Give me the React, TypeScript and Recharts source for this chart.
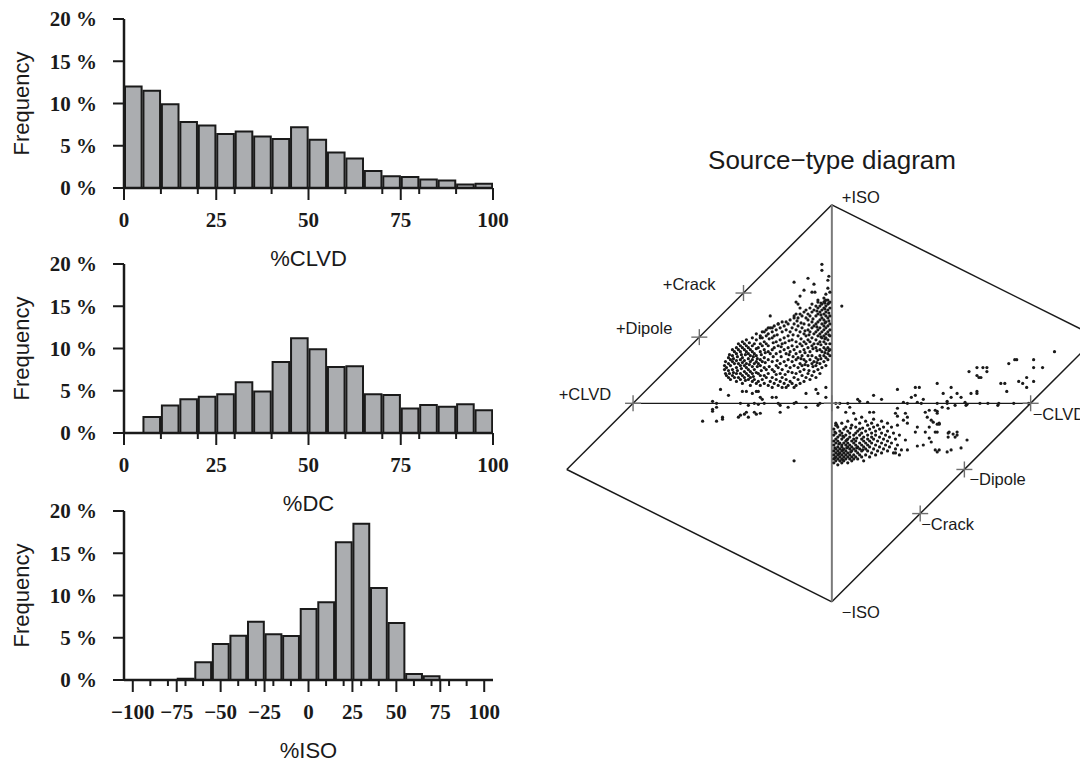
import React from 'react';
import { ComposedChart, Bar, XAxis, YAxis, ScatterChart, Scatter, ReferenceLine, ReferenceDot } from 'recharts';

// ---------- histogram data ----------
const pctBinCenters = [2.5, 7.5, 12.5, 17.5, 22.5, 27.5, 32.5, 37.5, 42.5, 47.5, 52.5, 57.5, 62.5, 67.5, 72.5, 77.5, 82.5, 87.5, 92.5, 97.5];
const clvdFreq = [12.0, 11.5, 9.9, 7.8, 7.4, 6.4, 6.7, 6.1, 5.8, 7.2, 5.7, 4.2, 3.5, 2.0, 1.4, 1.3, 1.0, 0.9, 0.4, 0.5];
const dcFreq = [0, 1.9, 3.25, 4.0, 4.3, 4.6, 6.0, 4.9, 8.4, 11.2, 9.9, 7.8, 7.9, 4.6, 4.5, 2.9, 3.3, 3.1, 3.4, 2.7];
const isoBinCenters = [-100, -90, -80, -70, -60, -50, -40, -30, -20, -10, 0, 10, 20, 30, 40, 50, 60, 70, 80, 90, 100];
const isoFreq = [0, 0, 0, 0.15, 2.1, 4.25, 5.25, 6.9, 5.4, 5.2, 8.4, 9.2, 16.3, 18.5, 10.9, 6.75, 0.7, 0.45, 0, 0, 0];

const pctTicks = [0, 10, 20, 25, 30, 40, 50, 60, 70, 75, 80, 90, 100];
const pctMajor = [0, 25, 50, 75, 100];
const isoTicks = [-100, -90, -80, -75, -70, -60, -50, -40, -30, -25, -20, -10, 0, 10, 20, 25, 30, 40, 50, 60, 70, 75, 80, 90, 100];
const isoMajor = [-100, -75, -50, -25, 0, 25, 50, 75, 100];
const freqTicks = [0, 5, 10, 15, 20];

// ---------- source-type diagram data (u = CLVD axis, v = ISO axis) ----------
const diamondU = [0, 4 / 3, 0, -4 / 3, 0];
const diamondV = [1, 1 / 3, -1, -1 / 3, 1];

const markerNames = ['+ISO', '+Crack', '+Dipole', '+CLVD', '−CLVD', '−Dipole', '−Crack', '−ISO', ''];
const markerU = [0, -4 / 9, -2 / 3, -1, 1, 2 / 3, 4 / 9, 0, 0];
const markerV = [1, 5 / 9, 1 / 3, 0, 0, -1 / 3, -5 / 9, -1, 0];

const upperCols: Array<[number, number[]]> = [
  [-0.54, [0.17, 0.19]],
  [-0.535, [0.15, 0.21]],
  [-0.53, [0.14, 0.18]],
  [-0.52, [0.13, 0.165, 0.20, 0.23]],
  [-0.515, [0.15, 0.245]],
  [-0.51, [0.12, 0.19, 0.22]],
  [-0.50, [0.14, 0.17, 0.21, 0.24, 0.27]],
  [-0.495, [0.155, 0.225]],
  [-0.49, [0.13, 0.20, 0.26]],
  [-0.48, [0.11, 0.15, 0.18, 0.215, 0.25, 0.28]],
  [-0.475, [0.165, 0.235]],
  [-0.47, [0.13, 0.20, 0.27, 0.30]],
  [-0.46, [0.12, 0.15, 0.19, 0.22, 0.26, 0.29]],
  [-0.455, [0.175, 0.245]],
  [-0.45, [0.10, 0.14, 0.205, 0.23, 0.28, 0.31]],
  [-0.44, [0.13, 0.16, 0.19, 0.215, 0.27, 0.30]],
  [-0.435, [0.115, 0.245]],
  [-0.43, [0.15, 0.18, 0.20, 0.26, 0.29, 0.32]],
  [-0.42, [0.12, 0.14, 0.17, 0.225, 0.25, 0.28]],
  [-0.415, [0.195, 0.305]],
  [-0.41, [0.09, 0.13, 0.16, 0.21, 0.24, 0.27]],
  [-0.40, [0.11, 0.15, 0.185, 0.22, 0.26, 0.29, 0.33]],
  [-0.395, [0.135, 0.235]],
  [-0.39, [0.12, 0.17, 0.20, 0.25, 0.30]],
  [-0.38, [0.10, 0.155, 0.21, 0.24, 0.275, 0.32, 0.35]],
  [-0.375, [0.185, 0.225]],
  [-0.37, [0.11, 0.15, 0.20, 0.28]],
  [-0.36, [0.09, 0.14, 0.19, 0.22, 0.26, 0.30, 0.34]],
  [-0.355, [0.165, 0.245]],
  [-0.35, [0.12, 0.21, 0.29, 0.33]],
  [-0.34, [0.10, 0.14, 0.18, 0.23, 0.27, 0.31, 0.36]],
  [-0.335, [0.205, 0.255]],
  [-0.33, [0.13, 0.17, 0.30, 0.34, 0.37]],
  [-0.32, [0.09, 0.15, 0.22, 0.26, 0.29, 0.35]],
  [-0.315, [0.185, 0.325]],
  [-0.31, [0.11, 0.25, 0.38]],
  [-0.30, [0.08, 0.13, 0.17, 0.21, 0.27, 0.33, 0.36]],
  [-0.295, [0.235, 0.305]],
  [-0.29, [0.10, 0.16, 0.28, 0.34, 0.39]],
  [-0.28, [0.12, 0.145, 0.19, 0.25, 0.31, 0.37]],
  [-0.275, [0.215, 0.345]],
  [-0.27, [0.09, 0.18, 0.29, 0.40]],
  [-0.26, [0.11, 0.15, 0.20, 0.26, 0.32, 0.38]],
  [-0.255, [0.235, 0.285]],
  [-0.25, [0.08, 0.13, 0.17, 0.30, 0.36, 0.41]],
  [-0.24, [0.10, 0.21, 0.27, 0.33, 0.39]],
  [-0.235, [0.145, 0.305]],
  [-0.23, [0.12, 0.19, 0.25, 0.37, 0.41]],
  [-0.22, [0.09, 0.16, 0.22, 0.28, 0.34, 0.40]],
  [-0.215, [0.245, 0.315]],
  [-0.21, [0.11, 0.18, 0.26, 0.36, 0.42]],
  [-0.20, [0.10, 0.155, 0.21, 0.29, 0.32, 0.38]],
  [-0.195, [0.235, 0.345]],
  [-0.19, [0.13, 0.19, 0.27, 0.40, 0.43]],
  [-0.18, [0.09, 0.15, 0.22, 0.25, 0.31, 0.37]],
  [-0.175, [0.285, 0.415]],
  [-0.17, [0.12, 0.18, 0.23, 0.34, 0.39, 0.43]],
  [-0.16, [0.10, 0.16, 0.20, 0.26, 0.30, 0.36, 0.45]],
  [-0.155, [0.225, 0.325, 0.405]],
  [-0.15, [0.14, 0.19, 0.24, 0.29, 0.38, 0.44]],
  [-0.14, [0.11, 0.17, 0.22, 0.27, 0.31, 0.35, 0.40, 0.46]],
  [-0.135, [0.195, 0.255, 0.365]],
  [-0.13, [0.13, 0.21, 0.30, 0.34, 0.43, 0.47]],
  [-0.12, [0.15, 0.19, 0.24, 0.28, 0.32, 0.37, 0.42, 0.45]],
  [-0.115, [0.165, 0.345, 0.395]],
  [-0.11, [0.12, 0.22, 0.26, 0.31, 0.36, 0.44, 0.48]],
  [-0.10, [0.14, 0.20, 0.24, 0.29, 0.33, 0.38, 0.41, 0.46, 0.50]],
  [-0.095, [0.185, 0.275, 0.425]],
  [-0.09, [0.16, 0.21, 0.30, 0.35, 0.39, 0.47]],
  [-0.08, [0.13, 0.19, 0.23, 0.28, 0.32, 0.36, 0.40, 0.44, 0.49]],
  [-0.075, [0.205, 0.265, 0.385, 0.465]],
  [-0.07, [0.17, 0.22, 0.30, 0.34, 0.37, 0.41, 0.45, 0.48, 0.51]],
  [-0.06, [0.15, 0.20, 0.24, 0.27, 0.31, 0.35, 0.38, 0.42, 0.46, 0.49]],
  [-0.055, [0.225, 0.295, 0.335, 0.445, 0.505]],
  [-0.05, [0.18, 0.26, 0.33, 0.36, 0.40, 0.43, 0.47, 0.50]],
  [-0.04, [0.21, 0.24, 0.28, 0.31, 0.34, 0.37, 0.39, 0.42, 0.45, 0.48, 0.51]],
  [-0.035, [0.255, 0.325, 0.405, 0.475, 0.515]],
  [-0.03, [0.19, 0.23, 0.27, 0.30, 0.33, 0.35, 0.38, 0.41, 0.44, 0.46, 0.49, 0.52]],
  [-0.02, [0.22, 0.25, 0.28, 0.32, 0.36, 0.39, 0.43, 0.47, 0.50, 0.52]],
  [-0.015, [0.265, 0.345, 0.415, 0.455, 0.505]],
  [-0.01, [0.24, 0.27, 0.30, 0.34, 0.37, 0.40, 0.44, 0.48, 0.51]],
];

const upperSparse: Array<[number, number]> = [
  [-0.05, 0.70], [-0.05, 0.67], [-0.19, 0.61], [-0.12, 0.63], [-0.10, 0.56], [-0.02, 0.58], [0.05, 0.49],
  [-0.18, 0.51], [-0.17, 0.50], [-0.16, 0.54], [-0.16, 0.48], [-0.18, 0.45], [-0.31, 0.44], [-0.27, 0.40],
  [-0.30, 0.38], [-0.32, 0.38], [-0.35, 0.36], [-0.36, 0.33], [-0.07, 0.52], [-0.035, 0.505], [-0.03, 0.55],
  [-0.02, 0.62], [-0.09, 0.60], [-0.14, 0.57], [-0.015, 0.64], [-0.04, 0.53], [-0.01, 0.56], [-0.19, 0.44],
  [-0.085, 0.56],
];

const lowerCols: Array<[number, number[]]> = [
  [0.01, [-0.13, -0.16, -0.19, -0.21, -0.24, -0.26, -0.28, -0.30]],
  [0.015, [-0.145, -0.225, -0.275]],
  [0.02, [-0.11, -0.15, -0.18, -0.20, -0.23, -0.25, -0.27, -0.29]],
  [0.03, [-0.12, -0.17, -0.19, -0.22, -0.24, -0.26, -0.28, -0.31]],
  [0.035, [-0.205, -0.255]],
  [0.04, [-0.14, -0.16, -0.20, -0.23, -0.25, -0.27, -0.29]],
  [0.05, [-0.10, -0.15, -0.18, -0.21, -0.22, -0.24, -0.26, -0.28, -0.30]],
  [0.055, [-0.165, -0.235, -0.285]],
  [0.06, [-0.13, -0.17, -0.20, -0.23, -0.25, -0.27, -0.29]],
  [0.07, [-0.12, -0.16, -0.19, -0.21, -0.24, -0.26, -0.28]],
  [0.075, [-0.185, -0.225]],
  [0.08, [-0.09, -0.14, -0.18, -0.20, -0.22, -0.25, -0.27, -0.30]],
  [0.09, [-0.15, -0.17, -0.21, -0.23, -0.26, -0.28]],
  [0.095, [-0.125, -0.245]],
  [0.10, [-0.11, -0.19, -0.22, -0.24, -0.27, -0.29]],
  [0.11, [-0.16, -0.18, -0.20, -0.23, -0.26, -0.28]],
  [0.12, [-0.08, -0.12, -0.15, -0.19, -0.21, -0.24, -0.27]],
  [0.125, [-0.175, -0.225]],
  [0.13, [-0.14, -0.22, -0.25, -0.28]],
  [0.14, [-0.10, -0.13, -0.16, -0.20, -0.23, -0.26]],
  [0.15, [-0.07, -0.15, -0.18, -0.21, -0.24, -0.27]],
  [0.155, [-0.125, -0.235]],
  [0.16, [-0.17, -0.19, -0.22, -0.29]],
  [0.17, [-0.09, -0.14, -0.20, -0.23, -0.26]],
  [0.18, [-0.11, -0.16, -0.18, -0.21, -0.24]],
  [0.19, [-0.13, -0.19, -0.22, -0.27]],
  [0.20, [-0.10, -0.15, -0.17, -0.20, -0.25]],
  [0.21, [-0.08, -0.12, -0.18, -0.23]],
  [0.22, [-0.14, -0.16, -0.21, -0.26]],
  [0.23, [-0.11, -0.19, -0.24]],
  [0.24, [-0.13, -0.17, -0.22]],
  [0.25, [-0.09, -0.15, -0.20, -0.25]],
  [0.26, [-0.12, -0.18, -0.23]],
  [0.27, [-0.16, -0.21]],
  [0.28, [-0.10, -0.14, -0.19, -0.24]],
  [0.29, [-0.17, -0.22]],
  [0.30, [-0.12, -0.20]],
  [0.31, [-0.15, -0.25]],
  [0.32, [-0.18, -0.23]],
  [0.33, [-0.11, -0.21]],
  [0.34, [-0.16, -0.26]],
];

const leftAxisSparse: Array<[number, number]> = [
  [-0.56, 0.07], [-0.52, 0.04], [-0.45, 0.06], [-0.43, 0.06], [-0.40, 0.05], [-0.38, 0.06], [-0.37, 0.06],
  [-0.36, 0.03], [-0.35, 0.02], [-0.30, 0.03], [-0.28, 0.03], [-0.23, 0.08], [-0.19, 0.08], [-0.13, 0.05],
  [-0.08, 0.07], [-0.07, 0.05], [-0.03, 0.08], [-0.03, 0.03], [-0.60, 0.01], [-0.58, 0.0], [-0.46, 0.0],
  [-0.42, -0.01], [-0.39, 0.0], [-0.37, -0.005], [-0.34, 0.0], [-0.27, 0.0], [-0.26, -0.01], [-0.22, -0.02],
  [-0.19, 0.0], [-0.18, 0.005], [-0.13, -0.02], [-0.07, -0.01], [-0.06, 0.0], [-0.60, -0.03], [-0.60, -0.04],
  [-0.58, -0.02], [-0.55, -0.07], [-0.55, -0.08], [-0.58, -0.09], [-0.65, -0.09], [-0.47, -0.07], [-0.46, -0.06],
  [-0.44, -0.055], [-0.43, -0.045], [-0.42, -0.07], [-0.39, -0.045], [-0.38, -0.055], [-0.36, -0.05],
  [-0.26, -0.045], [-0.19, -0.29], [0.02, -0.10], [0.025, -0.11],
];

const rightSparse: Array<[number, number]> = [
  [0.33, 0.07], [0.42, 0.08], [0.44, 0.08], [0.53, 0.10], [0.40, 0.03], [0.42, 0.04], [0.36, 0.005], [0.43, 0.005],
  [0.45, 0], [0.38, 0], [0.46, 0.02], [0.21, 0.04], [0.13, 0.02], [0.14, 0.01], [0.18, 0.005], [0.25, 0.02],
  [0.02, 0], [0.04, 0], [0.08, 0], [0.03, -0.02], [0.07, -0.045], [0.11, -0.05], [0.09, -0.02], [0.19, -0.045],
  [0.21, -0.045], [0.33, -0.025], [0.52, -0.035], [0.53, -0.05], [0.49, -0.035], [0.37, -0.05], [0.32, -0.05],
  [0.33, -0.065], [0.38, -0.07], [0.36, -0.085], [0.38, -0.10], [0.47, -0.045], [0.48, -0.07], [0.50, -0.085],
  [0.51, -0.095], [0.54, -0.10], [0.43, -0.12], [0.42, -0.145], [0.49, -0.12], [0.47, -0.145], [0.52, -0.145],
  [0.49, -0.175], [0.50, -0.195], [0.46, -0.21], [0.52, -0.235], [0.43, -0.215], [0.37, -0.185], [0.38, -0.235],
  [0.35, -0.235], [0.32, -0.25], [1.12, 0.26], [0.92, 0.22], [0.93, 0.22], [1.015, 0.22], [0.89, 0.20],
  [1.015, 0.18], [1.06, 0.18], [0.73, 0.18], [0.76, 0.18], [0.78, 0.18], [0.78, 0.16], [0.69, 0.16], [0.73, 0.14],
  [0.74, 0.13], [0.75, 0.13], [0.94, 0.11], [0.96, 0.10], [0.98, 0.08], [0.98, 0.13], [1.015, 0.11], [0.85, 0.10],
  [0.87, 0.10], [0.88, 0.06], [0.60, 0.08], [0.56, 0.05], [0.60, 0.03], [0.63, 0.05], [0.65, 0.03], [0.70, 0.05],
  [0.73, 0.06], [0.73, 0.05], [0.58, 0.01], [0.58, 0], [0.67, 0.005], [0.68, -0.005], [0.675, -0.01], [0.62, -0.01],
  [0.745, 0], [0.785, 0], [0.835, -0.01], [0.915, 0], [0.53, 0], [0.555, -0.02], [0.585, -0.025], [0.53, -0.04],
  [0.53, -0.105], [0.54, -0.105], [0.53, -0.145], [0.585, -0.15], [0.59, -0.145], [0.61, -0.155], [0.62, -0.17],
  [0.63, -0.16], [0.63, -0.145], [0.585, -0.17], [0.68, -0.185], [0.65, -0.225], [0.54, -0.235], [0.53, -0.245],
  [0.58, -0.245], [0.60, -0.235], [0.84, 0.0], [0.99, 0.0],
];

// ---------- styling ----------
const INK = '#1a1a1a';
const BAR_FILL = '#abadb0';
const serifTick = { fontFamily: '"Liberation Serif", "Times New Roman", serif', fontWeight: 700, fontSize: 21, fill: INK };
const sansLabel = { fontFamily: '"Liberation Sans", Arial, sans-serif', fontSize: 22, fill: INK };
const markerFont = { fontFamily: '"Liberation Sans", Arial, sans-serif', fontSize: 16.5, fill: INK };

const markerLayout: Record<string, { dx: number; dy: number; anchor: 'start' | 'end'; cross: boolean }> = {
  '+ISO': { dx: 10, dy: -2, anchor: 'start', cross: false },
  '+Crack': { dx: -28, dy: -3, anchor: 'end', cross: true },
  '+Dipole': { dx: -27, dy: -3, anchor: 'end', cross: true },
  '+CLVD': { dx: -22, dy: -3, anchor: 'end', cross: true },
  '−CLVD': { dx: 2, dy: 17, anchor: 'start', cross: true },
  '−Dipole': { dx: 5, dy: 16, anchor: 'start', cross: true },
  '−Crack': { dx: 1, dy: 16, anchor: 'start', cross: true },
  '−ISO': { dx: 10, dy: 16, anchor: 'start', cross: false },
  '': { dx: 0, dy: 0, anchor: 'start', cross: true },
};

const fmtMinus = (v: number) => (v < 0 ? '−' + Math.abs(v) : String(v));

const XTick = (props: any) => {
  const { x, y, payload, majors } = props;
  const v = payload.value;
  const major = majors.includes(v);
  return (
    <g>
      <line x1={x} x2={x} y1={y} y2={y + (major ? 12 : 6)} stroke={INK} strokeWidth={2} />
      {major && (
        <text x={x} y={y + 39} textAnchor="middle" style={serifTick}>
          {fmtMinus(v)}
        </text>
      )}
    </g>
  );
};

const PLOT_W = 369;

type HistProps = {
  centers: number[];
  freq: number[];
  binWidth: number;
  domain: [number, number];
  ticks: number[];
  majors: number[];
  title: string;
  top: number;
};

const Histogram = ({ centers, freq, binWidth, domain, ticks, majors, title, top }: HistProps) => {
  const data = centers.map((c, i) => ({ x: c, freq: freq[i] }));
  const barSize = (PLOT_W * binWidth) / (domain[1] - domain[0]);
  return (
    <div style={{ position: 'absolute', left: 0, top }}>
      <ComposedChart width={510} height={262} data={data} margin={{ top: 11, right: 25, left: 0, bottom: 0 }} barCategoryGap={0} barGap={0}>
        <XAxis
          dataKey="x"
          type="number"
          domain={domain}
          ticks={ticks}
          interval={0}
          allowDataOverflow
          height={82}
          tickSize={0}
          tickMargin={0}
          tickLine={false}
          axisLine={{ stroke: INK, strokeWidth: 2.5 }}
          tick={<XTick majors={majors} />}
          label={{ value: title, position: 'insideBottom', offset: 4, style: sansLabel }}
        />
        <YAxis
          type="number"
          domain={[0, 20]}
          ticks={freqTicks}
          interval={0}
          width={116}
          tickSize={11}
          tickMargin={16}
          tickFormatter={(v: number) => `${v} %`}
          tick={serifTick}
          tickLine={{ stroke: INK, strokeWidth: 2 }}
          axisLine={{ stroke: INK, strokeWidth: 2.5 }}
          label={{ value: 'Frequency', angle: -90, position: 'insideLeft', offset: 13, style: { ...sansLabel, textAnchor: 'middle' } }}
        />
        <Bar dataKey="freq" barSize={barSize} fill={BAR_FILL} stroke={INK} strokeWidth={2} isAnimationActive={false} />
      </ComposedChart>
    </div>
  );
};

const Dot = (p: any) => <circle cx={p.cx} cy={p.cy} r={1.6} fill={INK} />;

export default function App() {
  const points = [
    ...upperCols.flatMap(([u, vs]) => vs.map((v) => ({ u, v }))),
    ...upperSparse.map(([u, v]) => ({ u, v })),
    ...lowerCols.flatMap(([u, vs]) => vs.map((v) => ({ u, v }))),
    ...leftAxisSparse.map(([u, v]) => ({ u, v })),
    ...rightSparse.map(([u, v]) => ({ u, v })),
  ];
  const edges = diamondU.slice(0, -1).map((u, i) => [
    { x: u, y: diamondV[i] },
    { x: diamondU[i + 1], y: diamondV[i + 1] },
  ]);
  return (
    <div style={{ position: 'relative', width: 1080, height: 754, overflow: 'hidden', background: '#fff' }}>
      <Histogram centers={pctBinCenters} freq={clvdFreq} binWidth={5} domain={[0, 100]} ticks={pctTicks} majors={pctMajor} title="%CLVD" top={0} />
      <Histogram centers={pctBinCenters} freq={dcFreq} binWidth={5} domain={[0, 100]} ticks={pctTicks} majors={pctMajor} title="%DC" top={245} />
      <Histogram centers={isoBinCenters} freq={isoFreq} binWidth={10} domain={[-105, 105]} ticks={isoTicks} majors={isoMajor} title="%ISO" top={492} />

      <div
        style={{
          position: 'absolute',
          left: 624,
          top: 137,
          width: 400,
          textAlign: 'center',
          fontFamily: '"Liberation Sans", Arial, sans-serif',
          fontSize: 26,
          lineHeight: '30px',
          color: INK,
          whiteSpace: 'nowrap',
        }}
      >
        Source−type diagram
      </div>

      <div style={{ position: 'absolute', left: 532, top: 122 }}>
        <ScatterChart width={570} height={500} margin={{ top: 74.8, right: 13.1, left: 26.8, bottom: 28.2 }} style={{ overflow: 'visible' }}>
          <XAxis type="number" dataKey="u" domain={[-4 / 3, 4 / 3]} allowDataOverflow hide />
          <YAxis type="number" dataKey="v" domain={[-1, 1]} allowDataOverflow hide />
          {edges.map((seg, i) => (
            <ReferenceLine key={'e' + i} segment={seg as any} stroke={INK} strokeWidth={1.5} ifOverflow="visible" />
          ))}
          <ReferenceLine segment={[{ x: -1, y: 0 }, { x: 1, y: 0 }]} stroke={INK} strokeWidth={1.3} ifOverflow="visible" />
          <ReferenceLine segment={[{ x: 0, y: 1 }, { x: 0, y: -1 }]} stroke="#7a7a7a" strokeWidth={2} ifOverflow="visible" />
          <Scatter data={points} dataKey="v" shape={Dot} isAnimationActive={false} />
          {markerNames.map((name, i) => {
            const lay = markerLayout[name];
            return (
              <ReferenceDot
                key={'m' + i}
                x={markerU[i]}
                y={markerV[i]}
                r={8}
                ifOverflow="visible"
                shape={(p: any) => (
                  <g>
                    {lay.cross && (
                      <g stroke="#6e6e6e" strokeWidth={1.4}>
                        <line x1={p.cx - 8} x2={p.cx + 8} y1={p.cy} y2={p.cy} />
                        <line x1={p.cx} x2={p.cx} y1={p.cy - 8} y2={p.cy + 8} />
                      </g>
                    )}
                    {name && (
                      <text x={p.cx + lay.dx} y={p.cy + lay.dy} textAnchor={lay.anchor} style={markerFont}>
                        {name}
                      </text>
                    )}
                  </g>
                )}
              />
            );
          })}
        </ScatterChart>
      </div>
    </div>
  );
}
